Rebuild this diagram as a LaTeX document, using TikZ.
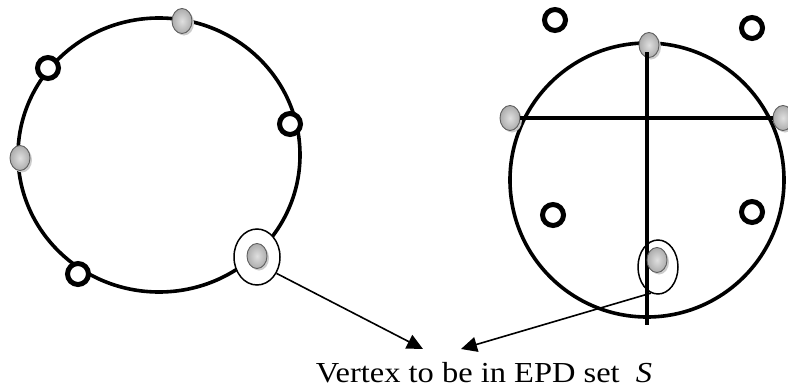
\documentclass[tikz,border=0pt]{standalone}
\usepackage{fontspec}
\setmainfont{Liberation Serif}
\usetikzlibrary{shapes.geometric,arrows.meta}
\begin{document}
\begin{tikzpicture}[x=1pt,y=-1pt,
  ring/.style={circle,draw=black,line width=5pt,minimum size=21pt,inner sep=0pt,fill=white},
  gv/.style={ellipse,draw=gray!75!black,line width=0.9pt,minimum width=20pt,minimum height=25pt,inner sep=0pt,
    inner color=gray!25,outer color=gray!65},
  gshadow/.style={ellipse,fill=gray!40,minimum width=20pt,minimum height=25pt,inner sep=0pt},
  encl/.style={ellipse,draw=black,line width=1.5pt,inner sep=0pt},
  big/.style={draw=black,line width=3.6pt},
  arr/.style={line width=1.6pt,-{Triangle[length=16pt,width=15pt]}}
]
\useasboundingbox (0,0) rectangle (788,391);
% left graph
\draw[big] (159,155) ellipse [x radius=141, y radius=137];
\node[encl,fill=white,minimum width=46pt,minimum height=56pt] (encL) at (257,257) {};
\foreach \n/\x/\y in {lt/182/21, ll/20/158, lb/257/256}{
  \node[gshadow] at (\x+2,\y+2) {};
  \node[gv] (\n) at (\x,\y) {};
}
\node[ring] (r1) at (48,68) {};
\node[ring] (r2) at (290,124) {};
\node[ring] (r3) at (78,274) {};
% right graph
\draw[big] (647,180) circle [radius=137];
\node[gshadow] at (651,47) {};
\node[gv] (rt) at (649,45) {};
\node[gshadow] at (512,120) {};
\node[gv] (rl) at (510,118) {};
\node[gshadow] at (785,120) {};
\node[gv] (rr) at (783,118) {};
\draw[big] (rl) -- (rr);
\coordinate (vb) at (647,325);
\coordinate (vt) at (647,52);
\draw[big] (vt) -- (vb);
\node[gshadow] at (659,262) {};
\node[gv] (rb) at (657,260) {};
\node[encl,minimum width=40pt,minimum height=54pt] (encR) at (658,267) {};
\node[ring] (s1) at (555,20) {};
\node[ring] (s2) at (752,28) {};
\node[ring] (s3) at (553,215) {};
\node[ring] (s4) at (752,212) {};
% label
\node[font=\fontsize{29}{33}\selectfont,anchor=base,inner sep=0pt] (lab) at (484,382) {\scalebox{1.12}[1]{Vertex to be in EPD set \ \textit{S}}};
\coordinate (tL) at (423,349);
\coordinate (tR) at (461,349);
\draw[arr] (encL.-40) -- (tL);
\draw[arr] (encR.-105) -- (tR);
\end{tikzpicture}
\end{document}
